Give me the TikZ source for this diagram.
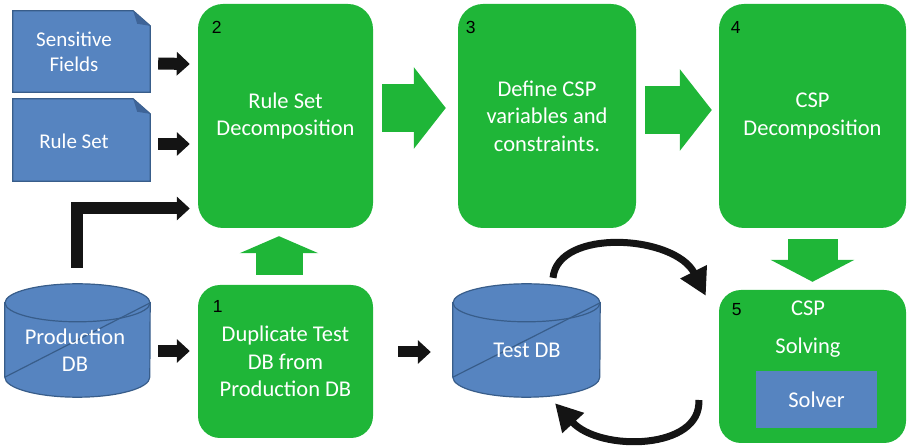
\documentclass[tikz,border=0pt]{standalone}
\usepackage{fontspec}
\setmainfont{Carlito}
\newfontfamily\numfont{Liberation Sans}
\usetikzlibrary{arrows.meta}
\definecolor{boxgreen}{RGB}{31,182,56}
\definecolor{docblue}{RGB}{86,132,192}
\definecolor{docedge}{RGB}{56,93,138}
\definecolor{docfold}{RGB}{62,100,152}
\definecolor{arrblack}{RGB}{20,20,20}
\tikzset{
  holder/.style={inner sep=0pt},
  greenbox/.style={fill=boxgreen, rounded corners=25pt, text=white, align=center,
    inner sep=0pt, font=\fontsize{22.5}{27.5}\selectfont},
  whitetext/.style={text=white, align=center, inner sep=0pt, font=\fontsize{22.5}{27.5}\selectfont},
  doctext/.style={whitetext, font=\fontsize{21}{24.5}\selectfont},
  docshape/.style={fill=docblue, draw=docedge, line width=1.2pt},
  numlbl/.style={inner sep=0pt, font=\numfont\fontsize{17.5}{20}\selectfont},
  blkarrow/.style={draw=arrblack, line width=12pt, -{Triangle[length=13pt,width=23pt]}},
  grnarrow/.style={draw=boxgreen, line width=48pt, -{Triangle[length=32pt,width=80pt]}},
  looparrow/.style={draw=arrblack, line width=7pt, -{Triangle[length=27pt,width=28pt]}},
}
\begin{document}
\begin{tikzpicture}[x=1pt,y=-1pt]
\useasboundingbox (0,0) rectangle (911,446);
% input documents
\node[holder, minimum width=137pt, minimum height=81pt] (doc1) at (81.5,51.5) {};
\node[holder, minimum width=137pt, minimum height=82pt] (doc2) at (81.5,140) {};
\foreach \d in {doc1,doc2}{
  \filldraw[docshape] (\d.south west) -- (\d.north west) -- ([xshift=-17pt]\d.north east)
    -- ([yshift=-15pt]\d.north east) -- (\d.south east) -- cycle;
  \fill[docfold] ([xshift=-17pt]\d.north east) -- ([yshift=-15pt]\d.north east)
    -- ([xshift=-13pt,yshift=-13pt]\d.north east) -- cycle;
}
\node[doctext] (doc1t) at (74,52) {Sensitive\\Fields};
\node[doctext] (doc2t) at (74,141) {Rule Set};
% databases
\node[holder, minimum width=145pt, minimum height=94pt] (prod) at (77.5,350) {};
\node[holder, minimum width=147pt, minimum height=94pt] (testdb) at (526.5,350) {};
\foreach \c/\r in {prod/72.5,testdb/73.5}{
  \filldraw[docshape] (\c.north west) -- ([yshift=20pt]\c.south west)
    arc (180:360:\r pt and 20pt) -- (\c.north east) -- cycle;
  \draw[docshape] (\c.north) ellipse [x radius=\r pt, y radius=19pt];
  \draw[docedge, line width=1.2pt] ([yshift=20pt]\c.south west) -- (\c.north east);
}
\node[whitetext] (prodt) at (75,350) {Production\\DB};
\node[whitetext] (testdbt) at (527,350) {Test DB};
% steps
\node[greenbox, minimum width=175pt, minimum height=224pt] (box2) at (285.5,116) {Rule Set\\Decomposition};
\node[greenbox, minimum width=178pt, minimum height=224pt] (box3) at (547,116) {Define CSP\\variables and\\constraints.};
\node[greenbox, minimum width=187pt, minimum height=224pt] (box4) at (812.5,116) {CSP\\Decomposition};
\node[greenbox, minimum width=175pt, minimum height=153pt, rounded corners=22pt] (box1) at (285.5,361.5) {Duplicate Test\\DB from\\Production DB};
\node[greenbox, minimum width=187pt, minimum height=153pt, rounded corners=22pt] (box5) at (812.5,366.5) {};
\node[whitetext, font=\fontsize{22.5}{38}\selectfont] (box5t) at (808,329) {CSP\\Solving};
\node[fill=docblue, minimum width=121pt, minimum height=57pt, whitetext] (solver) at (816.5,399.5) {Solver};
\node[numlbl] (n1) at ([xshift=20pt,yshift=-22pt]box1.north west) {1};
\node[numlbl] (n2) at ([xshift=19pt,yshift=-24pt]box2.north west) {2};
\node[numlbl] (n3) at ([xshift=13pt,yshift=-24pt]box3.north west) {3};
\node[numlbl] (n4) at ([xshift=17pt,yshift=-24pt]box4.north west) {4};
\node[numlbl] (n5) at ([xshift=18pt,yshift=-20pt]box5.north west) {5};
% arrows
\draw[blkarrow] ([xshift=8pt,yshift=-12pt]doc1.east) -- ([xshift=-8pt,yshift=52pt]box2.west);
\draw[blkarrow] ([xshift=8pt,yshift=-4pt]doc2.east) -- ([xshift=-8pt,yshift=-28pt]box2.west);
\draw[blkarrow, line join=miter] ([xshift=-1pt,yshift=35pt]prod.north) |- ([xshift=-8pt,yshift=-92.5pt]box2.west);
\draw[blkarrow] ([xshift=8pt,yshift=-1pt]prod.east) -- ([xshift=-8pt,yshift=10.5pt]box1.west);
\draw[blkarrow, line width=11pt] ([xshift=25pt,yshift=9.5pt]box1.east) -- ([xshift=-22pt,yshift=-2pt]testdb.west);
\draw[grnarrow] ([xshift=9pt,yshift=8pt]box2.east) -- ([xshift=-12pt,yshift=8pt]box3.west);
\draw[grnarrow] ([xshift=9pt,yshift=6pt]box3.east) -- ([xshift=-7pt,yshift=6pt]box4.west);
\draw[grnarrow, line width=50pt, -{Triangle[length=22pt,width=83pt]}] ([yshift=-11pt]box4.south) -- ([yshift=8pt]box5.north);
\draw[grnarrow, line width=47pt, -{Triangle[length=17pt,width=78pt]}] ([xshift=-6.5pt,yshift=10pt]box1.north) -- ([xshift=-6.5pt,yshift=-8pt]box2.south);
\draw[looparrow] ([xshift=26.5pt,yshift=25pt]testdb.north) .. controls +(5,-50) and +(-31,-61) .. ([xshift=-13pt,yshift=-6pt]box5.north west);
\draw[looparrow] ([xshift=-20pt,yshift=-33.5pt]box5.west) .. controls +(3,50) and +(45,49) .. ([xshift=28.5pt,yshift=-6pt]testdb.south);
\end{tikzpicture}
\end{document}
